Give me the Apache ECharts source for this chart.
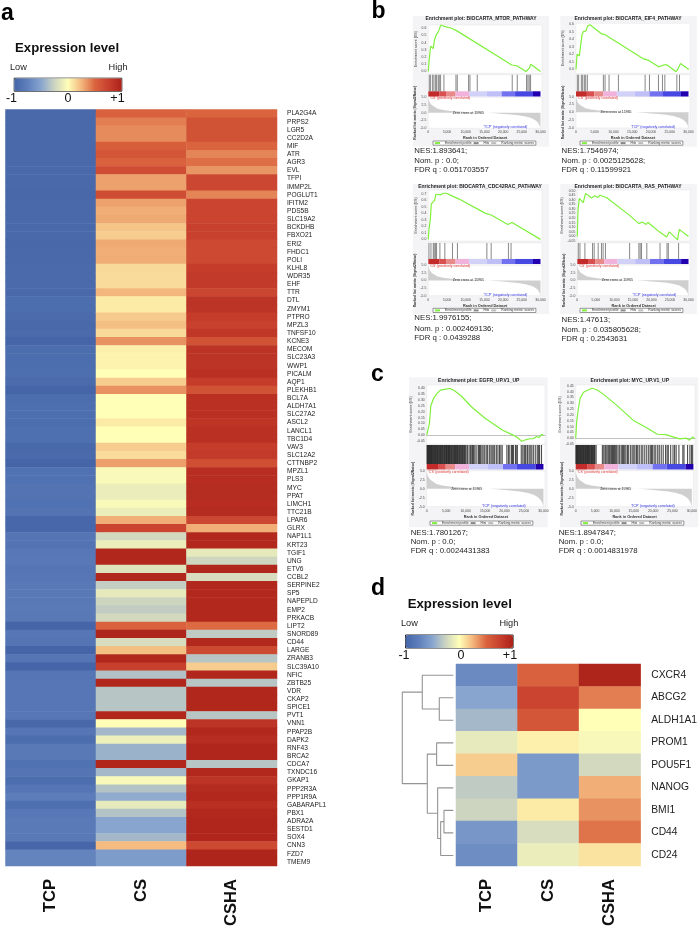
<!DOCTYPE html>
<html><head><meta charset="utf-8">
<style>html,body{margin:0;padding:0;background:#fff}#wrap{position:relative;width:700px;height:929px;overflow:hidden}#main{width:700px;height:929px;filter:blur(.3px)}.soft{position:absolute;backdrop-filter:blur(.55px);-webkit-backdrop-filter:blur(.55px)}</style>
<script src="https://cdn.jsdelivr.net/npm/echarts@6/dist/echarts.min.js"></script>
</head><body><div id="wrap"><div id="main"></div></div>
<script>
// ---------- panel a ----------
const groups = ['TCP','CS','CSHA'];
const genesA = [
'PLA2G4A','PRPS2','LGR5','CC2D2A','MIF','ATR','AGR3','EVL','TFPI','IMMP2L',
'POGLUT1','IFITM2','PDS5B','SLC19A2','BCKDHB','FBXO21','ERI2','FHDC1','POLI','KLHL8',
'WDR35','EHF','TTR','DTL','ZMYM1','PTPRO','MPZL3','TNFSF10','KCNE3','MECOM',
'SLC23A3','WWP1','PICALM','AQP1','PLEKHB1','BCL7A','ALDH7A1','SLC27A2','ASCL2','LANCL1',
'TBC1D4','VAV3','SLC12A2','CTTNBP2','MPZL1','PLS3','MYC','PPAT','LIMCH1','TTC21B',
'LPAR6','GLRX','NAP1L1','KRT23','TGIF1','UNG','ETV6','CCBL2','SERPINE2','SP5',
'NAPEPLD','EMP2','PRKACB','LIPT2','SNORD89','CD44','LARGE','ZRANB3','SLC39A10','NFIC',
'ZBTB25','VDR','CKAP2','SPICE1','PVT1','VNN1','PPAP2B','DAPK2','RNF43','BRCA2',
'CDCA7','TXNDC16','GKAP1','PPP2R3A','PPP1R9A','GABARAPL1','PBX1','ADRA2A','SESTD1','SOX4',
'CNN3','FZD7','TMEM9'];
const tcpA = [
-.96,-.96,-.96,-.96,-.96,-.96,-.96,-.96,-.96,-.96,
-.97,-.96,-.96,-.96,-.96,-.96,-.97,-.96,-.96,-.95,
-.95,-.95,-.96,-.93,-.93,-.94,-.96,-.95,-1,-.92,
-.92,-.92,-.91,-.94,-1,-.92,-.91,-.91,-.93,-.9,
-.9,-.96,-.95,-1,-.88,-.88,-.87,-.87,-.88,-.87,
-.98,-.98,-.86,-.87,-.83,-.82,-.85,-.84,-.82,-.82,
-.82,-.81,-.82,-1,-.84,-.86,-1,-.85,-1,-.85,
-.84,-.84,-.84,-.84,-.84,-.97,-.85,-.92,-.82,-.82,
-.88,-.86,-.92,-.85,-.78,-.9,-.83,-.81,-.81,-.82,
-.99,-.72,-.72];
const csA = [
.52,.42,.38,.38,.54,.6,.52,.66,.31,.31,
.66,.31,.27,.29,.2,.17,.29,.27,.28,.13,
.12,.12,.25,.07,.07,.18,.22,.13,.36,.05,
.04,.04,0,.17,.36,0,0,0,.07,0,
0,.17,.12,.32,-.03,-.03,-.1,-.1,-.03,-.1,
.27,.72,-.22,-.1,.95,.95,-.16,.95,-.28,-.13,
-.25,-.29,-.22,.52,.97,-.2,.22,.95,.76,-.35,
.95,-.33,-.33,-.33,.95,0,-.4,-.09,-.43,-.43,
.95,-.4,-.04,-.34,-.47,-.13,-.34,-.5,-.5,-.4,
.23,-.56,-.56];
const cshaA = [
.5,.62,.62,.62,.5,.4,.47,.35,.7,.7,
.4,.72,.72,.72,.75,.75,.69,.69,.69,.78,
.8,.8,.71,.85,.85,.78,.75,.82,.62,.85,
.85,.85,.87,.78,.62,.87,.87,.87,.84,.87,
.87,.78,.8,.65,.9,.9,.91,.91,.9,.92,
.7,.27,.94,.94,-.13,-.24,.95,-.2,.94,.94,
.94,.94,.94,.48,-.3,.94,.69,-.33,.17,.95,
-.33,.95,.95,.95,-.33,.85,.94,.9,.96,.96,
-.33,.94,.85,.92,.94,.88,.94,.96,.96,.96,
.69,.97,.97];
// ---------- panel d ----------
const genesD = ['CXCR4','ABCG2','ALDH1A1','PROM1','POU5F1','NANOG','BMI1','CD44','CD24'];
const tcpD  = [-.68,-.5,-.4,-.12,.17,-.3,-.25,-.6,-.66];
const csD   = [.52,.72,.6,.05,-.58,-.58,.07,-.2,-.1];
const cshaD = [.97,.42,0,-.04,-.22,.27,.36,.45,.1];
// merges of the dendrogram: [child, child, height]; children below 9 are genes, others earlier merges
const dendroMerges = [
 [1,2,.275],[0,9,.608],[3,4,.327],[6,7,.183],[12,8,.248],[5,13,.307],[11,14,.51],[10,15,1]
];
const scaleColors = ['#4565a8','#5f80bc','#88a5cf','#cdd4c0','#ffffb8','#f3b67c','#da643e','#c8402e','#ab2118'];
// ---------- GSEA panels ----------
const esMtor = [[0,0],[180,.13],[625,.35],[1340,.32],[1610,.43],[2050,.5],[2680,.55],[3390,.65],[4020,.63],[4550,.65],[6250,.6],[7770,.56],[22320,.09],[22770,.07],[23660,.08],[26160,0],[27050,.05],[27410,.1],[30000,0]];
const esEif4 = [[0,0],[270,.2],[890,.18],[1600,.46],[1960,.5],[2680,.51],[3040,.57],[3750,.59],[6880,.47],[7770,.46],[18040,.14],[19380,.12],[22050,.035],[23400,.06],[24290,.06],[26700,-.03],[27140,.005],[27860,.08],[30090,0]];
const esCdc42 = [[0,0],[180,.154],[530,.3],[800,.545],[1330,.53],[1680,.6],[2040,.695],[2570,.7],[3270,.685],[3980,.71],[4870,.71],[5750,.685],[8230,.62],[15310,.4],[16810,.375],[21240,.23],[21680,.235],[22390,.26],[30000,0]];
const esRas = [[0,0],[180,.28],[540,.415],[1610,.37],[2230,.47],[3840,.42],[4730,.445],[5630,.425],[6070,.45],[7860,.425],[14110,.23],[16610,.14],[17500,.157],[18570,.13],[19020,.155],[22140,.05],[22590,.05],[24110,-.007],[24820,.05],[27050,-.037],[27500,.077],[30000,0]];
const esEgfr = [[0,0],[440,.008],[700,.102],[1060,.253],[1770,.315],[2650,.358],[3530,.386],[4850,.395],[6000,.4],[7060,.383],[8830,.338],[11470,.244],[15000,.145],[19420,.045],[22070,.003],[22950,-.011],[24450,-.051],[25600,-.037],[26480,-.03],[27360,-.03],[28240,-.011],[28860,-.02],[29570,.008],[30000,0]];
const esMyc = [[0,0],[260,.147],[700,.26],[1140,.345],[2010,.395],[2890,.41],[4200,.43],[5510,.415],[7260,.373],[10760,.274],[14700,.153],[17760,.096],[20820,.034],[23010,.031],[24760,.011],[26510,-.006],[28260,0],[28960,-.017],[29830,.011],[30300,-.006]];
const hitsMtor = [270,620,1160,1510,1960,2230,2670,2940,3290,4180,7390,7750,10770,11130,13090,22440,23780,26270,26630,26980,27340];
const hitsEif4 = [356,712,1425,1780,2226,2582,3028,7300,7750,8815,11310,18430,19590,21990,23060,23690,26890,27600];
const hitsCdc42 = [180,710,1330,1590,1950,2210,3100,4420,6460,7790,15660,16810,21420,22120];
const hitsRas = [270,710,2050,4110,4550,5630,6520,6960,7590,14110,16610,16960,17320,18750,22320,24200,24550,27320];
const hitsEgfr = [90,210,330,480,600,700,860,990,1100,1250,1330,1520,1640,1800,1910,2050,2230,2370,2440,2610,2790,2900,3080,3210,3340,3520,3630,3800,3990,4110,4260,4440,4600,4710,4880,5050,5130,5310,5470,5620,5760,5840,6050,6220,6340,6510,6700,6820,7000,7150,7310,7440,7620,7790,7900,8120,8300,8450,8640,8820,9000,9170,9330,9520,9700,9930,10140,10500,10900,11260,11580,11800,12000,12350,12700,13220,13400,13600,13860,14200,14500,14900,15300,15650,16100,16500,16800,17100,17460,17900,18300,18700,19050,19400,20600,21000,21350,21800,22050,22300,22800,23000,23300,24300,24700,25050,25300,25500,25900,26300,26600,27000,27400,27900,28400,28700,29000,29500];
const hitsMyc = [60,170,300,420,530,650,790,900,1060,1150,1290,1430,1580,1690,1840,2000,2110,2290,2420,2540,2700,2830,2990,3120,3260,3410,3570,3680,3850,4020,4160,4310,4450,4620,4770,4900,5200,6800,7150,7480,7700,7990,8300,8560,8800,9100,9380,9620,9900,10180,10450,10800,11200,11600,11900,12200,12500,12800,13200,13500,14000,14400,14800,15100,15500,15800,16200,16700,17100,17600,18100,18600,19000,19300,19600,20000,20400,20900,21300,21800,22300,22900,23300,23600,24200,24800,25200,25600,26300,27300,27600,28500,29100,29500,29800];
const rankBarEnds = [2900,4900,7300,10900,15600,19600,23200,28000,30000];
const rankBarColors = ['#c32a2a','#d85050','#e88a8a','#f1b3dc','#d2d2f8','#bfbff8','#7272f0','#4747e2','#2200b0'];
const metricRanks = [0,200,500,1000,1500,2500,4000,6000,8000,11000,14000,15965,18000,20000,22000,24000,26000,27500,28500,29200,29700,30000];
const metricValues = [5,3.9,3.1,2.4,1.9,1.3,.9,.6,.4,.2,.07,0,-.15,-.35,-.55,-.8,-1.2,-1.7,-2.3,-3,-3.9,-5];
const gseaStats = {
 MTOR:['NES:1.893641;','Nom. p : 0.0;','FDR q : 0.051703557'],
 EIF4:['NES:1.7546974;','Nom. p : 0.0025125628;','FDR q : 0.11599921'],
 CDC42:['NES:1.9976155;','Nom. p : 0.002469136;','FDR q : 0.0439288'],
 RAS:['NES:1.47613;','Nom. p : 0.035805628;','FDR q : 0.2543631'],
 EGFR:['NES:1.7801267;','Nom. p : 0.0;','FDR q : 0.0024431383'],
 MYC:['NES:1.8947847;','Nom. p : 0.0;','FDR q : 0.0014831978']
};

// layout
const FONT = '"Liberation Sans",Arial,sans-serif';
const panels = [
 {t:'Enrichment plot: BIOCARTA_MTOR_PATHWAY',es:esMtor,hits:hitsMtor,st:gseaStats.MTOR,box:[412.7,16,136.3,130.7],pl:428.3,pr:542,esT:25,esB:73.3,hitT:74.7,hitB:91.3,rkB:96.5,mT:97.3,mB:128.3,min:-.025,max:.645,iv:.025,lab:.1,tx:414.3,ty:[150.5,160.5,170],tc:481,ty0:19,lg:[433,141],zero:0},
 {t:'Enrichment plot: BIOCARTA_EIF4_PATHWAY',es:esEif4,hits:hitsEif4,st:gseaStats.EIF4,box:[560.3,16,136.4,130.7],pl:576,pr:690,esT:23.3,esB:73.3,hitT:74.7,hitB:91.3,rkB:96.5,mT:96.7,mB:128,min:-.05,max:.61,iv:.025,lab:.1,tx:561.5,ty:[150.5,160.5,170],tc:628,ty0:18.5,lg:[580,141],zero:0},
 {t:'Enrichment plot: BIOCARTA_CDC42RAC_PATHWAY',es:esCdc42,hits:hitsCdc42,st:gseaStats.CDC42,box:[412.7,184,136.3,130],pl:428.3,pr:542,esT:190,esB:241,hitT:243,hitB:259,rkB:264,mT:265.3,mB:295.7,min:-.025,max:.76,iv:.025,lab:.1,tx:414.3,ty:[318,328.5,337.5],tc:480,ty0:186.7,lg:[433,308.3],zero:0},
 {t:'Enrichment plot: BIOCARTA_RAS_PATHWAY',es:esRas,hits:hitsRas,st:gseaStats.RAS,box:[560.3,184,136.4,130],pl:577.3,pr:690,esT:190,esB:241,hitT:243,hitB:259,rkB:264,mT:265,mB:295.7,min:-.05,max:.507,iv:.05,lab:.05,tx:561.5,ty:[320,329.5,339],tc:628,ty0:186.7,lg:[580,308.3],zero:0},
 {t:'Enrichment plot: EGFR_UP.V1_UP',es:esEgfr,hits:hitsEgfr,st:gseaStats.EGFR,box:[409,377.3,138.7,150],pl:426.7,pr:545,esT:385,esB:444,hitT:445,hitB:464,rkB:469.5,mT:470.7,mB:506.7,min:-.075,max:.43,iv:.025,lab:.05,tx:410.7,ty:[532.7,541.7,551],tc:478.7,ty0:380.3,lg:[430,521],zero:1,dark:1},
 {t:'Enrichment plot: MYC_UP.V1_UP',es:esMyc,hits:hitsMyc,st:gseaStats.MYC,box:[560,377.3,138.3,150],pl:575.7,pr:695,esT:385,esB:444,hitT:445,hitB:464,rkB:469.5,mT:470.7,mB:506.7,min:-.05,max:.458,iv:.05,lab:.05,tx:558.7,ty:[532.7,541.7,551],tc:629.7,ty0:380.3,lg:[581,521],zero:1,dark:1}
];

const W=700,H=929;
const grid=[],xAxis=[],yAxis=[],series=[],legend=[],graphic=[];
function txt(x,y,text,o){graphic.push({type:'text',x,y,silent:true,z:5,style:Object.assign({text,fill:'#1a1a1a',fontFamily:FONT,fontSize:10,textVerticalAlign:'middle',verticalAlign:'middle'},o||{})});}
function addGrid(l,r,t,b,o){grid.push(Object.assign({left:l,top:t,width:r-l,height:b-t,containLabel:false},o||{}));return grid.length-1;}

function heatSeries(gi,rows,cols){
  const data=[];cols.forEach((c,ci)=>c.forEach((v,ri)=>data.push([ci,ri,v])));
  return {type:'heatmap',xAxisIndex:gi,yAxisIndex:gi,data,silent:true,progressive:0,itemStyle:{borderWidth:0},emphasis:{disabled:true}};
}
function heatAxes(gi,rows,fs,marg){
  xAxis.push({gridIndex:gi,type:'category',data:groups,axisLine:{show:false},axisTick:{show:false},splitLine:{show:false},splitArea:{show:false},
    axisLabel:{rotate:90,margin:13,fontFamily:FONT,fontWeight:'bold',fontSize:16.6,color:'#111'}});
  yAxis.push({gridIndex:gi,type:'category',data:rows,inverse:true,position:'right',axisLine:{show:false},axisTick:{show:false},splitLine:{show:false},splitArea:{show:false},
    axisLabel:{interval:0,margin:marg,fontFamily:FONT,fontSize:fs,color:'#222'}});
}
let g=addGrid(5.5,277,109.5,866.7);heatAxes(g,genesA,6.6,10);series.push(heatSeries(g,genesA,[tcpA,csA,cshaA]));
g=addGrid(456,642.7,664,866.7);heatAxes(g,genesD,10.3,10.6);series.push(heatSeries(g,genesD,[tcpD,csD,cshaD]));

// dendrogram
g=addGrid(402.3,453.3,664,866.7);
xAxis.push({gridIndex:g,type:'value',min:0,max:1,inverse:true,show:false});
yAxis.push({gridIndex:g,type:'value',min:-.5,max:8.5,inverse:true,show:false});
(function(){
  const nodes=genesD.map((n,i)=>({h:0,y:i}));const pts=[];
  dendroMerges.forEach(m=>{const a=nodes[m[0]],b=nodes[m[1]];
    pts.push([a.h,a.y],[m[2],a.y],[m[2],b.y],[b.h,b.y],['-','-']);
    nodes.push({h:m[2],y:(a.y+b.y)/2});});
  series.push({type:'line',xAxisIndex:g,yAxisIndex:g,data:pts,showSymbol:false,symbol:'none',silent:true,clip:false,connectNulls:false,lineStyle:{color:'#949494',width:1.1}});
})();

// GSEA
panels.forEach(p=>{
  const XMAX=30400;
  graphic.push({type:'rect',silent:true,z:-10,shape:{x:p.box[0],y:p.box[1],width:p.box[2],height:p.box[3]},style:{fill:'#f4f4f6'}});
  txt(p.tc,p.ty0,p.t,{fontWeight:'bold',fontSize:5,textAlign:'center',align:'center',fill:'#222'});
  p.st.forEach((s,i)=>txt(p.tx,p.ty[i],s,{fontSize:7.8,fill:'#222'}));
  const base={backgroundColor:'#fff',show:true,borderColor:'#e4e4e4',borderWidth:.5};
  // ES
  let gi=addGrid(p.pl,p.pr,p.esT,p.esB,base);
  xAxis.push({gridIndex:gi,type:'value',min:0,max:XMAX,interval:5000,axisLabel:{show:false},axisTick:{show:false},splitLine:{show:false},axisLine:{show:!!p.zero,onZero:true,lineStyle:{color:'#999',width:.6}}});
  yAxis.push({gridIndex:gi,type:'value',min:p.min,max:p.max,interval:p.iv,name:'Enrichment score (ES)',nameLocation:'middle',nameGap:p.dark?12:9,nameRotate:90,nameTextStyle:{fontSize:3.6,color:'#333',fontFamily:FONT},
    splitLine:{show:false},axisTick:{show:false},axisLine:{show:false},
    axisLabel:{fontSize:3.4,color:'#444',margin:2,fontFamily:FONT,formatter:v=>{const r=v/p.lab;return Math.abs(r-Math.round(r))<1e-6&&v<=p.max?(p.lab<.1?v.toFixed(2):v.toFixed(1)):'';}}});
  series.push({type:'line',name:'Enrichment profile',xAxisIndex:gi,yAxisIndex:gi,data:p.es,showSymbol:false,symbol:'none',silent:true,color:'#7ff03c',lineStyle:{color:'#7ff03c',width:1.2}});
  // hits
  gi=addGrid(p.pl,p.pr,p.hitT,p.hitB,base);
  xAxis.push({gridIndex:gi,type:'value',min:0,max:XMAX,show:false});
  yAxis.push({gridIndex:gi,type:'value',min:0,max:1,show:false});
  series.push({type:'scatter',name:'Hits',xAxisIndex:gi,yAxisIndex:gi,data:p.hits.map(x=>[x,.5]),silent:true,symbol:'rect',symbolSize:[p.dark?1.1:1,p.hitB-p.hitT],color:'#666',itemStyle:{color:p.dark?'#222':'#555',opacity:p.dark?.8:.7}});
  // rank bar
  gi=addGrid(p.pl,p.pr,p.hitB,p.rkB,{show:true,backgroundColor:'#fff',borderWidth:0});
  xAxis.push({gridIndex:gi,type:'value',min:0,max:XMAX,show:false});
  yAxis.push({gridIndex:gi,type:'value',min:0,max:1,show:false});
  series.push({type:'custom',xAxisIndex:gi,yAxisIndex:gi,silent:true,clip:false,data:rankBarEnds.map((e,i)=>[i?rankBarEnds[i-1]:0,e,i]),encode:{x:[0,1]},
    renderItem:(ps,api)=>{const a=api.coord([api.value(0),1]),b=api.coord([api.value(1),0]);
      return {type:'rect',shape:{x:a[0],y:a[1],width:b[0]-a[0],height:b[1]-a[1]},style:{fill:rankBarColors[api.value(2)]}};}});
  // metric
  gi=addGrid(p.pl,p.pr,p.mT,p.mB,base);
  xAxis.push({gridIndex:gi,type:'value',min:0,max:XMAX,interval:5000,name:'Rank in Ordered Dataset',nameLocation:'middle',nameGap:8,nameTextStyle:{fontSize:3.8,fontWeight:'bold',color:'#333',fontFamily:FONT},
    splitLine:{show:false},axisTick:{show:false},axisLine:{show:false},
    axisLabel:{fontSize:3.4,color:'#444',margin:2.5,fontFamily:FONT,showMaxLabel:false,formatter:v=>v%5000?'':v.toLocaleString('en-US')}});
  yAxis.push({gridIndex:gi,type:'value',min:-5,max:5,interval:2.5,name:'Ranked list metric (Signal2Noise)',nameLocation:'middle',nameGap:p.dark?12:10,nameRotate:90,nameTextStyle:{fontSize:3.4,fontWeight:'bold',color:'#333',fontFamily:FONT},
    splitLine:{show:false},axisTick:{show:false},axisLine:{show:false},
    axisLabel:{fontSize:3.4,color:'#444',margin:2,fontFamily:FONT,formatter:v=>v.toFixed(1)}});
  series.push({type:'line',name:'Ranking metric scores',xAxisIndex:gi,yAxisIndex:gi,data:metricRanks.map((r,i)=>[r,metricValues[i]]),showSymbol:false,symbol:'none',silent:true,color:'#bbbbbb',lineStyle:{width:0},areaStyle:{color:'#bbbbbb',origin:0}});
  // annotations
  const k=(p.mB-p.mT)/31;
  txt(p.pl+1.5,p.mT+1,"'CS' (positively correlated)",{fontSize:3.5,fill:'#e03030'});
  txt(p.pl+40,(p.mT+p.mB)/2,'Zero cross at 15965',{fontSize:3.5,fill:'#222',textAlign:'center',align:'center'});
  txt(p.pl+77,p.mB-1*k,"'TCP' (negatively correlated)",{fontSize:3.5,fill:'#3030e0',textAlign:'center',align:'center'});
  legend.push({left:p.lg[0],top:p.lg[1],orient:'horizontal',padding:[.6,2],itemGap:2,itemWidth:5,itemHeight:2,selectedMode:false,backgroundColor:'#fff',borderColor:'#555',borderWidth:.6,
    textStyle:{fontSize:3.3,color:'#333',fontFamily:FONT},
    data:[{name:'Enrichment profile',icon:'rect'},{name:'Hits',icon:'rect'},{name:'Ranking metric scores',icon:'rect'}]});
  // slight softening of the small panels, as in the reference
  const d=document.createElement('div');d.className='soft';
  d.style.cssText=`left:${p.box[0]}px;top:${p.box[1]}px;width:${p.box[2]}px;height:${p.box[3]}px`;
  document.getElementById('wrap').appendChild(d);
});

// panel letters and headings
[['a',1,14],['b',371.5,11.5],['c',371,375],['d',371,589]].forEach(l=>txt(l[1],l[2],l[0],{fontFamily:FONT,fontWeight:'bold',fontSize:23,fill:'#000'}));
function head(x,y,lowX,lowY,highR,numY,n1,n0,n2){
  txt(x,y,'Expression level',{fontWeight:'bold',fontSize:13.2,fill:'#111'});
  txt(lowX,lowY,'Low',{fontSize:9.2,fill:'#222'});
  txt(highR,lowY,'High',{fontSize:9.2,fill:'#222',textAlign:'right',align:'right'});
  [['-1',n1],['0',n0],['+1',n2]].forEach(t=>txt(t[1],numY,t[0],{fontSize:12.5,fill:'#111',textAlign:'center',align:'center'}));
}
head(15,48,10,67,127.5,98.5,11.5,68,117.5);
head(407.7,604.3,401,623.3,518.3,655.7,404,461,510);

function vm(si,l,t,len){return {type:'continuous',seriesIndex:si,dimension:2,min:-1,max:1,orient:'horizontal',left:l,top:t,itemWidth:13,itemHeight:len,padding:0,borderColor:'#222',borderWidth:1,calculable:false,hoverLink:false,text:null,showLabel:false,inRange:{color:scaleColors}};}

const chart=echarts.init(document.getElementById('main'),null,{renderer:'canvas',width:W,height:H});
chart.setOption({animation:false,backgroundColor:'#fff',tooltip:{show:false},
  grid,xAxis,yAxis,series,legend,graphic:{elements:graphic},
  visualMap:[vm(0,13.7,77.7,107.6),vm(1,405,634.5,107.6)]});
</script></body></html>
